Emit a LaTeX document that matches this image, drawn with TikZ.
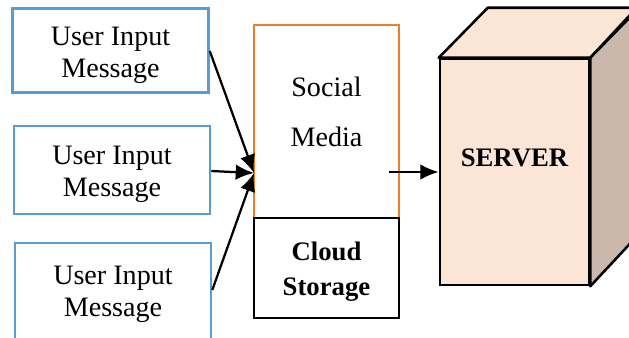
\documentclass[tikz,border=0pt]{standalone}
\usepackage{fontspec}
\setmainfont{Liberation Serif}
\usetikzlibrary{arrows.meta}
\definecolor{msgblue}{HTML}{5B9BD5}
\definecolor{mediaorange}{HTML}{ED7D31}
\definecolor{serverfront}{HTML}{FBE5D6}
\definecolor{serverside}{HTML}{C9B8AB}
\newcommand{\pu}{0.025cm}
\tikzset{
  msgbox/.style={draw=msgblue,line width=1.8pt,minimum width=196*\pu,minimum height=84*\pu,
    align=center,font=\fontsize{20}{23}\selectfont,inner sep=0pt},
  flecha/.style={->,>={Latex[length=13pt,width=11pt]},line width=1.6pt},
}
\begin{document}
\begin{tikzpicture}[x=\pu,y=-\pu]
  \useasboundingbox (0,0) rectangle (629,337);
  \begin{scope}
  \clip (0,0) rectangle (629,337);

  % mensajes de entrada
  \node[msgbox] (msga) at (110.5,50.5) {};
  \node[msgbox,draw=none] at (110.5,55) {User Input\\Message};
  \node[msgbox,minimum height=88*\pu] (msgb) at (112,170) {};
  \node[msgbox,draw=none] at (112,174) {User Input\\Message};
  \node[msgbox,minimum height=98*\pu] (msgc) at (113,292) {};
  \node[msgbox,draw=none] at (113,294) {User Input\\Message};

  % red social y almacenamiento
  \node[draw=mediaorange,line width=1.6pt,minimum width=145*\pu,minimum height=193*\pu,inner sep=0pt]
    (media) at (326.5,121.5) {};
  \node[font=\fontsize{20}{36}\selectfont,align=center] at (326.5,112) {Social\\Media};
  \node[draw,line width=1.9pt,minimum width=145*\pu,minimum height=100*\pu,inner sep=0pt] (cloud) at (326.5,268) {};
  \node[font=\fontsize{19}{25}\bfseries\selectfont,align=center] at (326.5,272) {Cloud\\Storage};
  \coordinate (in) at (254,173);
  \coordinate (out) at (389,172);

  % servidor
  \node[draw,line width=1.8pt,fill=serverfront,minimum width=149*\pu,minimum height=226*\pu,inner sep=0pt]
    (server) at (514.5,172) {};
  \node[font=\fontsize{19}{23}\bfseries\selectfont] at (514.5,158) {SERVER};
  \draw[line width=1.8pt,fill=serverfront,line join=round] (server.north west) -- ++(49,-50) -- ++(149,0)
    -- (server.north east) -- cycle;
  \draw[line width=1.8pt,fill=serverside,line join=round] (server.north east) -- ++(49,-50) -- ++(0,226)
    -- (server.south east) -- cycle;

  \draw[flecha] (msga.east |- 0,51) -- (in);
  \draw[flecha] (msgb.east |- 0,171) -- (in);
  \draw[flecha] (msgc.east |- 0,290) -- (in);
  \draw[flecha] (out) -- (server.west |- out);
  \end{scope}
\end{tikzpicture}
\end{document}
